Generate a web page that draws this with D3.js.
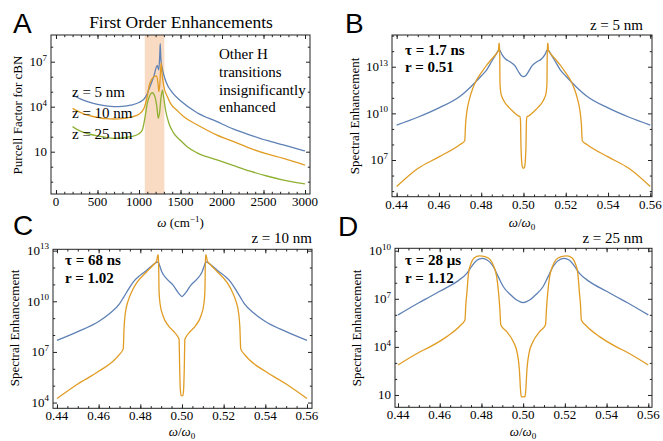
<!DOCTYPE html>
<html><head><meta charset="utf-8">
<script src="https://cdn.jsdelivr.net/npm/d3@7"></script>
<style>body{margin:0;background:#fff}</style>
</head><body><svg id="c" width="663" height="441"></svg>
<script>
// ---------- DATA (values as log10 of the plotted quantity) ----------
// Panel A: Purcell factor vs omega (cm^-1)
const aZ5 = [[200,4.78],[300,4.5],[400,4.3],[500,4.15],[600,4.05],[700,4.0],[800,4.02],[900,4.1],[1000,4.28],[1060,4.5],[1100,4.87],[1140,5.45],[1180,6.05],[1220,6.75],[1238,6.45],[1250,7.4],[1256,8.2],[1262,7.3],[1272,6.8],[1290,6.3],[1330,5.6],[1400,4.95],[1500,4.4],[1700,3.6],[1940,3.0],[2140,2.5],[2340,2.11],[2540,1.75],[2740,1.45],[3000,1.05]];
const aZ10 = [[200,3.89],[300,3.6],[400,3.4],[500,3.29],[600,3.2],[700,3.18],[800,3.2],[900,3.3],[1000,3.5],[1060,3.89],[1100,4.7],[1120,5.33],[1150,5.8],[1180,6.0],[1212,6.05],[1228,5.6],[1240,5.0],[1252,5.6],[1262,6.6],[1268,6.89],[1276,6.3],[1300,5.33],[1340,4.7],[1380,4.22],[1460,3.75],[1540,3.33],[1700,2.8],[1940,2.11],[2140,1.67],[2340,1.22],[2540,0.85],[2740,0.56],[3000,0.11]];
const aZ25 = [[200,2.67],[300,2.35],[400,2.18],[500,2.05],[600,1.95],[700,1.89],[800,1.92],[900,2.0],[1000,2.2],[1040,2.45],[1070,3.2],[1100,4.22],[1130,4.75],[1160,4.93],[1190,4.7],[1215,4.0],[1232,3.23],[1248,3.6],[1265,4.6],[1282,5.11],[1295,4.7],[1320,3.78],[1360,2.9],[1420,2.22],[1500,1.75],[1580,1.33],[1700,0.92],[1940,0.45],[2140,0.07],[2340,-0.3],[2540,-0.62],[2740,-0.89],[3000,-1.15]];
const aBand = [1070, 1305];
const aSeriesLabels = ["z = 5 nm", "z = 10 nm", "z = 25 nm"];
const aNote = ["Other H", "transitions", "insignificantly", "enhanced"];

// Panel B (z = 5 nm)
const bBlue = [[0.44,9.25],[0.45,9.75],[0.46,10.35],[0.47,11.1],[0.475,11.7],[0.48,12.4],[0.4826,12.8],[0.485,13.35],[0.487,13.8],[0.4885,14.1],[0.49,13.75],[0.4915,13.5],[0.4936,13.32],[0.496,13.05],[0.498,12.6],[0.499,12.42],[0.5,12.36],[0.501,12.42],[0.502,12.6],[0.504,13.05],[0.5064,13.32],[0.5085,13.5],[0.51,13.75],[0.5115,14.1],[0.513,13.8],[0.515,13.35],[0.5174,12.8],[0.52,12.4],[0.525,11.7],[0.53,11.1],[0.54,10.35],[0.55,9.75],[0.56,9.25]];
const bOrange = [[0.44,5.29],[0.45,6.45],[0.46,7.2],[0.47,8.0],[0.4722,8.24],[0.4726,9.3],[0.4732,10.1],[0.4745,10.95],[0.476,11.6],[0.4778,12.15],[0.48,12.6],[0.4826,13.1],[0.485,13.5],[0.4873,13.86],[0.4882,14.05],[0.4884,14.5],[0.4887,14.5],[0.4889,11.9],[0.4893,11.3],[0.4905,10.86],[0.493,10.4],[0.4952,10.1],[0.4975,9.84],[0.4983,9.8],[0.4986,9.5],[0.4988,8.0],[0.4991,7.0],[0.4995,6.55],[0.5,6.46],[0.5005,6.55],[0.5009,7.0],[0.5012,8.0],[0.5014,9.5],[0.5017,9.8],[0.5025,9.84],[0.5048,10.1],[0.507,10.4],[0.5095,10.86],[0.5107,11.3],[0.5111,11.9],[0.5113,14.5],[0.5116,14.5],[0.5118,14.05],[0.5127,13.86],[0.515,13.5],[0.5174,13.1],[0.52,12.6],[0.5222,12.15],[0.524,11.6],[0.5255,10.95],[0.5268,10.1],[0.5274,9.3],[0.5278,8.24],[0.53,8.0],[0.54,7.2],[0.55,6.45],[0.56,5.29]];

// Panel C (z = 10 nm)
const cBlue = [[0.44,7.68],[0.45,8.2],[0.46,8.8],[0.465,9.25],[0.47,9.85],[0.4718,10.2],[0.4745,10.75],[0.4766,11.14],[0.48,11.55],[0.4831,11.84],[0.486,12.15],[0.4886,12.34],[0.4893,12.1],[0.4905,11.7],[0.4926,11.34],[0.4958,10.94],[0.4986,10.45],[0.5,10.28],[0.5014,10.45],[0.5042,10.94],[0.5074,11.34],[0.5095,11.7],[0.5107,12.1],[0.5114,12.34],[0.514,12.15],[0.5169,11.84],[0.52,11.55],[0.5234,11.14],[0.5255,10.75],[0.5282,10.2],[0.53,9.85],[0.535,9.25],[0.54,8.8],[0.55,8.2],[0.56,7.68]];
const cOrange = [[0.44,4.24],[0.45,5.1],[0.46,5.85],[0.47,6.85],[0.4718,7.18],[0.4722,8.4],[0.4727,9.2],[0.4742,10.04],[0.476,10.6],[0.4783,11.1],[0.4831,11.75],[0.4862,12.15],[0.4879,12.4],[0.4884,12.75],[0.4887,12.75],[0.489,10.6],[0.4895,9.84],[0.491,9.1],[0.4935,8.55],[0.4958,8.24],[0.498,7.9],[0.4986,7.75],[0.4989,6.0],[0.4992,4.8],[0.4996,4.42],[0.5,4.4],[0.5004,4.42],[0.5008,4.8],[0.5011,6.0],[0.5014,7.75],[0.502,7.9],[0.5042,8.24],[0.5065,8.55],[0.509,9.1],[0.5105,9.84],[0.511,10.6],[0.5113,12.75],[0.5116,12.75],[0.5121,12.4],[0.5138,12.15],[0.5169,11.75],[0.5217,11.1],[0.524,10.6],[0.5258,10.04],[0.5273,9.2],[0.5278,8.4],[0.5282,7.18],[0.53,6.85],[0.54,5.85],[0.55,5.1],[0.56,4.24]];

// Panel D (z = 25 nm)
const dBlue = [[0.44,5.99],[0.45,6.75],[0.4553,7.13],[0.46,7.47],[0.4682,8.07],[0.473,8.59],[0.4755,9.05],[0.4778,9.4],[0.4805,9.52],[0.4835,9.35],[0.4857,9.0],[0.488,8.4],[0.4905,7.75],[0.494,7.25],[0.4969,6.92],[0.5,6.76],[0.5031,6.92],[0.506,7.25],[0.5095,7.75],[0.512,8.4],[0.5143,9.0],[0.5165,9.35],[0.5195,9.52],[0.5222,9.4],[0.5245,9.05],[0.527,8.59],[0.5318,8.07],[0.54,7.47],[0.5447,7.13],[0.55,6.75],[0.56,5.99]];
const dOrange = [[0.44,2.87],[0.45,3.65],[0.4553,4.0],[0.4634,4.64],[0.47,5.35],[0.4721,5.68],[0.4725,6.6],[0.473,7.34],[0.4738,8.59],[0.475,9.2],[0.4765,9.55],[0.479,9.68],[0.482,9.62],[0.4841,9.46],[0.486,9.0],[0.4873,8.38],[0.4882,7.4],[0.4888,6.4],[0.4893,5.36],[0.4921,4.95],[0.4953,4.32],[0.4972,3.6],[0.4982,2.56],[0.4988,1.2],[0.4991,0.92],[0.4996,0.88],[0.5,0.88],[0.5004,0.88],[0.5009,0.92],[0.5012,1.2],[0.5018,2.56],[0.5028,3.6],[0.5047,4.32],[0.5079,4.95],[0.5107,5.36],[0.5112,6.4],[0.5118,7.4],[0.5127,8.38],[0.514,9.0],[0.5159,9.46],[0.518,9.62],[0.521,9.68],[0.5235,9.55],[0.525,9.2],[0.5262,8.59],[0.527,7.34],[0.5275,6.6],[0.5279,5.68],[0.53,5.35],[0.5366,4.64],[0.5447,4.0],[0.55,3.65],[0.56,2.87]];

// tick labels
const aXTicks = [0, 500, 1000, 1500, 2000, 2500, 3000];
const aYTicks = [1, 4, 7];
const bcdXTicks = [0.44, 0.46, 0.48, 0.50, 0.52, 0.54, 0.56];
const bYTicks = [7, 10, 13];
const cYTicks = [4, 7, 10, 13];
const dYTicks = [1, 4, 7, 10];
const panelZ = ["z = 5 nm", "z = 10 nm", "z = 25 nm"];
const panelTau = ["τ = 1.7 ns", "τ = 68 ns", "τ = 28 μs"];
const panelR = ["r = 0.51", "r = 1.02", "r = 1.12"];

// ---------- DRAWING ----------
const SERIF = '"Liberation Serif","Times New Roman",serif';
const SANS = '"Liberation Sans",Arial,sans-serif';
const BLUE = "#5e81b5", ORANGE = "#e19c24", GREEN = "#8fb032";
const svg = d3.select("#c");

function txt(x, y, s, o = {}) {
  return svg.append("text").attr("x", x).attr("y", y).text(s)
    .attr("font-family", o.family || SERIF).attr("font-size", o.size || 15)
    .attr("font-weight", o.weight || "normal").attr("text-anchor", o.anchor || "start")
    .attr("fill", "#000");
}

function panel(p) {
  const x = d3.scaleLinear().domain(p.xDomain).range([p.left, p.right]);
  const y = d3.scaleLog().domain([10 ** p.yLog[0], 10 ** p.yLog[1]]).range([p.bottom, p.top]);
  const g = svg.append("g");
  const cid = "clip" + p.name;
  svg.append("clipPath").attr("id", cid).append("rect")
    .attr("x", p.left).attr("y", p.top).attr("width", p.right - p.left).attr("height", p.bottom - p.top);
  if (p.band) {
    g.append("rect").attr("x", x(p.band[0])).attr("y", p.top)
      .attr("width", x(p.band[1]) - x(p.band[0])).attr("height", p.bottom - p.top)
      .attr("fill", "#f9dac3");
  }
  const line = d3.line().x(d => x(d[0])).y(d => y(10 ** d[1])).curve(d3.curveMonotoneX);
  p.series.forEach(s => {
    g.append("path").attr("d", line(s.data)).attr("fill", "none")
      .attr("stroke", s.color).attr("stroke-width", 1.3).attr("stroke-linejoin", "round")
      .attr("clip-path", `url(#${cid})`);
  });

  // ticks via d3 axes (inside frame)
  const minorLogs = d3.range(Math.ceil(p.yLog[0]), Math.floor(p.yLog[1]) + 1)
    .filter(e => !p.yTicks.includes(e)).map(e => 10 ** e);
  const majorLogs = p.yTicks.map(e => 10 ** e);
  function ax(gen, tr) {
    const a = g.append("g").attr("transform", tr).call(gen);
    a.select(".domain").remove();
    a.selectAll("line").attr("stroke", "#222");
    a.selectAll("text").remove();
    return a;
  }
  const sides = [
    [d3.axisBottom(x), `translate(0,${p.bottom})`, p.xTicks, p.xMinor],
    [d3.axisTop(x), `translate(0,${p.top})`, p.xTicks, p.xMinor],
  ];
  sides.forEach(([gen, tr, maj, min]) => {
    ax(gen.scale(x).tickValues(maj).tickSize(-4).tickSizeOuter(0), tr);
  });
  ax(d3.axisBottom(x).tickValues(p.xMinor).tickSize(-2.2).tickSizeOuter(0), `translate(0,${p.bottom})`);
  ax(d3.axisTop(x).tickValues(p.xMinor).tickSize(-2.2).tickSizeOuter(0), `translate(0,${p.top})`);
  ax(d3.axisLeft(y).tickValues(majorLogs).tickSize(-4).tickSizeOuter(0), `translate(${p.left},0)`);
  ax(d3.axisRight(y).tickValues(majorLogs).tickSize(-4).tickSizeOuter(0), `translate(${p.right},0)`);
  ax(d3.axisLeft(y).tickValues(minorLogs).tickSize(-2.2).tickSizeOuter(0), `translate(${p.left},0)`);
  ax(d3.axisRight(y).tickValues(minorLogs).tickSize(-2.2).tickSizeOuter(0), `translate(${p.right},0)`);

  // frame
  g.append("rect").attr("x", p.left).attr("y", p.top).attr("width", p.right - p.left)
    .attr("height", p.bottom - p.top).attr("fill", "none").attr("stroke", "#222").attr("stroke-width", 1);

  // x tick labels
  p.xTicks.forEach(v => {
    txt(x(v), p.bottom + 12, p.xFmt(v), { size: 13, anchor: "middle" });
  });
  // y tick labels with superscripts
  p.yTicks.forEach(e => {
    const t = txt(p.left - 4, y(10 ** e) + 4.3, "", { size: 13, anchor: "end" });
    t.append("tspan").text("10");
    if (e !== 1) t.append("tspan").attr("dy", -5.5).attr("font-size", 9).text(e);
  });
  // y axis label
  svg.append("text").attr("transform", `translate(${p.yLabelX},${p.yLabelY}) rotate(-90)`)
    .attr("text-anchor", "middle").attr("font-family", SERIF).attr("font-size", 13)
    .attr("fill", "#000").text(p.yLabel);
  // x axis label
  const xl = txt(p.xLabelX, p.xLabelY, "", { size: 13, anchor: "middle" });
  if (p.name === "A") {
    xl.append("tspan").attr("font-style", "italic").text("ω");
    xl.append("tspan").text(" (cm");
    xl.append("tspan").attr("dy", -5).attr("font-size", 9).text("−1");
    xl.append("tspan").attr("dy", 5).text(")");
  } else {
    xl.append("tspan").attr("font-style", "italic").text("ω");
    xl.append("tspan").text("/");
    xl.append("tspan").attr("font-style", "italic").text("ω");
    xl.append("tspan").attr("dy", 3).attr("font-size", 9).text("0");
  }
  return { x, y };
}

const fmtA = d3.format("d");
const fmtB = d3.format(".2f");
const minorA = d3.range(0, 3001, 100);
const minorB = d3.range(0, 25).map(i => +(0.44 + i * 0.005).toFixed(3));

panel({ name: "A", left: 51, right: 310, top: 35, bottom: 194, xDomain: [-60, 3060], yLog: [-1.82, 8.78],
  xTicks: aXTicks, xMinor: minorA, xFmt: fmtA, yTicks: aYTicks, band: aBand,
  series: [{ data: aZ5, color: BLUE }, { data: aZ10, color: ORANGE }, { data: aZ25, color: GREEN }],
  yLabel: "Purcell Factor for cBN", yLabelX: 21.5, yLabelY: 115, xLabelX: 180.5, xLabelY: 226.5 });

panel({ name: "B", left: 392, right: 652, top: 35, bottom: 196.7, xDomain: [0.4378, 0.5608], yLog: [4.64, 15.04],
  xTicks: bcdXTicks, xMinor: minorB, xFmt: fmtB, yTicks: bYTicks,
  series: [{ data: bBlue, color: BLUE }, { data: bOrange, color: ORANGE }],
  yLabel: "Spectral Enhancement", yLabelX: 358.5, yLabelY: 116, xLabelX: 522, xLabelY: 226.5 });

panel({ name: "C", left: 53, right: 312, top: 249.3, bottom: 408.3, xDomain: [0.4381, 0.5624], yLog: [3.66, 13.08],
  xTicks: bcdXTicks, xMinor: minorB, xFmt: fmtB, yTicks: cYTicks,
  series: [{ data: cBlue, color: BLUE }, { data: cOrange, color: ORANGE }],
  yLabel: "Spectral Enhancement", yLabelX: 18.5, yLabelY: 328, xLabelX: 182, xLabelY: 435.5 });

panel({ name: "D", left: 395, right: 652, top: 248.3, bottom: 407.3, xDomain: [0.43856, 0.56177], yLog: [0.23, 10.15],
  xTicks: bcdXTicks, xMinor: minorB, xFmt: fmtB, yTicks: dYTicks,
  series: [{ data: dBlue, color: BLUE }, { data: dOrange, color: ORANGE }],
  yLabel: "Spectral Enhancement", yLabelX: 360.5, yLabelY: 328, xLabelX: 523, xLabelY: 435.5 });

// panel letters
txt(13, 33, "A", { family: SANS, size: 28 });
txt(345, 33, "B", { family: SANS, size: 28 });
txt(13, 235, "C", { family: SANS, size: 28 });
txt(338, 236, "D", { family: SANS, size: 28 });

// Panel A title and annotations
txt(181, 28, "First Order Enhancements", { size: 17.5, anchor: "middle" });
[97, 118, 139].forEach((yy, i) => txt(72, yy, aSeriesLabels[i], { size: 15 }));
[59, 77, 94.5, 112].forEach((yy, i) => txt(219, yy, aNote[i], { size: 15 }));

// Panels B-D annotations
txt(643, 30, panelZ[0], { size: 15, anchor: "end" });
txt(312, 243.3, panelZ[1], { size: 15, anchor: "end" });
txt(643, 243.3, panelZ[2], { size: 15, anchor: "end" });
txt(405, 55, panelTau[0], { size: 15, weight: "bold" });
txt(405, 71.7, panelR[0], { size: 15, weight: "bold" });
txt(65, 265, panelTau[1], { size: 15, weight: "bold" });
txt(65, 282.7, panelR[1], { size: 15, weight: "bold" });
txt(405, 265, panelTau[2], { size: 15, weight: "bold" });
txt(405, 282.7, panelR[2], { size: 15, weight: "bold" });
</script></body></html>
